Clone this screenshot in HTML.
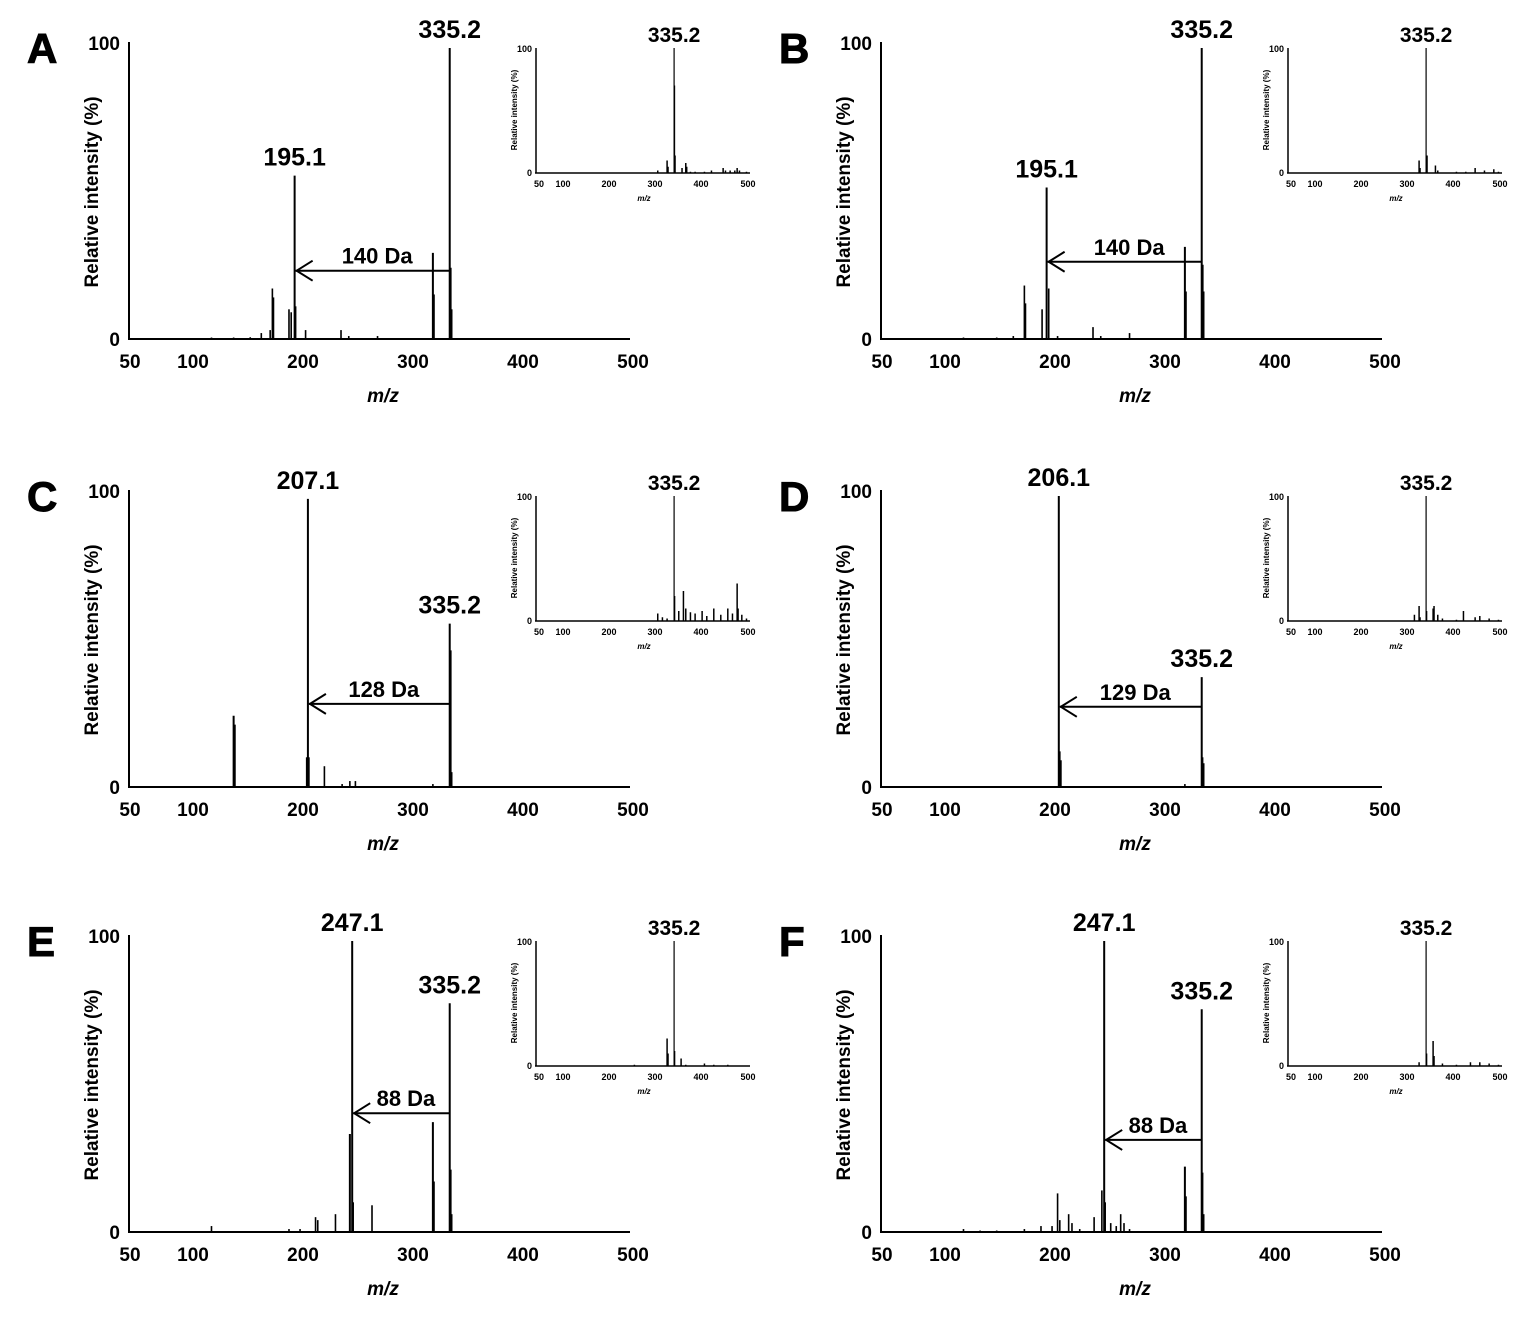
<!DOCTYPE html>
<html><head><meta charset="utf-8"><style>
html,body{margin:0;padding:0;background:#fff}
svg text{font-family:"Liberation Sans",Arial,sans-serif;font-weight:bold;fill:#000}
</style></head><body>
<svg id="s" width="1534" height="1316" xmlns="http://www.w3.org/2000/svg"></svg>
<script>
const s=document.getElementById('s');let h='';
const P=[
 {L:'A',dx:0,dy:0,peaks:[[165,2],[173,3],[175,17],[176,14],[190,10],[192,9],[195.1,55],[196,11],[205,3],[237,3],[244,1],[270,1],[320,29],[321,15],[335.2,98],[336,24],[337,10],[120,.5],[140,.5],[155,.6]],
  labs:[[195.1,55,'195.1'],[335.2,98,'335.2']],arrow:[335.2,195.1,23,'140 Da'],
  ins:[[300,2],[320,10],[322,5],[335,100],[336,70],[337,14],[352,4],[360,8],[362,5],[370,1],[380,1],[400,1],[415,2],[440,4],[445,2],[455,2],[465,2],[470,4],[475,2],[490,1]]},
 {L:'B',dx:752,dy:0,peaks:[[165,1],[175,18],[176,12],[191,10],[195.1,51],[197,17],[205,1],[237,4],[244,1],[270,2],[320,31],[321,16],[335.2,98],[336,25],[337,16],[120,.5],[150,.5]],
  labs:[[195.1,51,'195.1'],[335.2,98,'335.2']],arrow:[335.2,195.1,26,'140 Da'],
  ins:[[320,10],[322,4],[335,100],[337,14],[355,6],[360,2],[400,1],[420,1],[440,4],[460,2],[480,3],[490,1]]},
 {L:'C',dx:0,dy:448,peaks:[[140,24],[141,21],[206,10],[207.1,97],[208,10],[222,7],[238,1],[245,2],[250,2],[320,1],[335.2,55],[336,46],[337,5]],
  labs:[[207.1,97,'207.1'],[335.2,55,'335.2']],arrow:[335.2,207.1,28,'128 Da'],
  ins:[[300,6],[310,3],[320,2],[335,100],[336,20],[345,8],[355,24],[360,10],[370,7],[380,6],[395,8],[405,4],[420,10],[435,5],[450,10],[460,6],[470,30],[472,10],[480,5],[490,2]]},
 {L:'D',dx:752,dy:448,peaks:[[206.1,98],[207,12],[208,9],[320,1],[335.2,37],[336,10],[337,8]],
  labs:[[206.1,98,'206.1'],[335.2,37,'335.2']],arrow:[335.2,206.1,27,'129 Da'],
  ins:[[310,5],[320,12],[322,3],[335,100],[336,8],[350,10],[352,12],[360,5],[370,2],[400,1],[415,8],[440,3],[450,4],[470,2],[490,1]]},
 {L:'E',dx:0,dy:893,peaks:[[120,2],[190,1],[200,1],[214,5],[216,4],[232,6],[245,33],[247.1,98],[248,10],[265,9],[320,37],[321,17],[335.2,77],[336,21],[337,6]],
  labs:[[247.1,98,'247.1'],[335.2,77,'335.2']],arrow:[335.2,247.1,40,'88 Da'],
  ins:[[250,1],[320,22],[322,10],[335,100],[336,12],[350,6],[360,1],[400,2],[420,1],[450,1]]},
 {L:'F',dx:752,dy:893,peaks:[[120,1],[135,.5],[150,.5],[175,1],[190,2],[200,2],[205,13],[207,4],[215,6],[218,3],[225,1],[238,5],[245,14],[247.1,98],[248,10],[253,3],[258,2],[262,6],[265,3],[270,1],[320,22],[321,12],[335.2,75],[336,20],[337,6]],
  labs:[[247.1,98,'247.1'],[335.2,75,'335.2']],arrow:[335.2,247.1,31,'88 Da'],
  ins:[[320,3],[335,100],[336,10],[350,20],[352,8],[370,2],[400,1],[430,3],[450,3],[470,2],[490,1]]}
];
for(const p of P){
 const ox=p.dx,oy=p.dy;
 const X=m=>ox+134+(m-50)*1.107, y0=oy+339, Y=v=>y0-v*2.97;
 h+=`<text x="${ox+27}" y="${oy+63}" font-size="42" style="font-weight:900" stroke="#000" stroke-width="1">${p.L}</text>`;
 h+=`<line x1="${ox+129}" y1="${oy+42}" x2="${ox+129}" y2="${y0}" stroke="#000" stroke-width="2"/>`;
 h+=`<line x1="${ox+128}" y1="${y0}" x2="${ox+630}" y2="${y0}" stroke="#000" stroke-width="2"/>`;
 h+=`<text x="${ox+120}" y="${oy+50}" font-size="19" text-anchor="end">100</text>`;
 h+=`<text x="${ox+120}" y="${y0+7}" font-size="19" text-anchor="end">0</text>`;
 [[50,130],[100,193],[200,303],[300,413],[400,523],[500,633]].forEach(([t,x])=>h+=`<text x="${ox+x}" y="${oy+368}" font-size="19" text-anchor="middle">${t}</text>`);
 h+=`<text x="${ox+383}" y="${oy+402}" font-size="19" text-anchor="middle" font-style="italic">m/z</text>`;
 h+=`<text transform="translate(${ox+98},${oy+192}) rotate(-90)" font-size="19" text-anchor="middle">Relative intensity (%)</text>`;
 for(const [m,v] of p.peaks){const w=v>20?2:1.6;h+=`<line x1="${X(m)}" y1="${y0}" x2="${X(m)}" y2="${Y(v)}" stroke="#000" stroke-width="${w}"/>`;}
 for(const [m,v,t] of p.labs)h+=`<text x="${X(m)}" y="${Y(v)-10}" font-size="25" text-anchor="middle">${t}</text>`;
 const [a,b,v,t]=p.arrow, ay=Y(v), xa=X(a), xb=X(b);
 h+=`<line x1="${xa}" y1="${ay}" x2="${xb+1}" y2="${ay}" stroke="#000" stroke-width="2"/>`;
 h+=`<polyline points="${xb+18},${ay-10} ${xb+2},${ay} ${xb+18},${ay+10}" fill="none" stroke="#000" stroke-width="2"/>`;
 h+=`<text x="${(xa+xb)/2+5}" y="${ay-7}" font-size="22" text-anchor="middle">${t}</text>`;
 const IX=m=>ox+541+(m-50)*0.467, iy0=oy+173, IY=v=>iy0-v*1.25;
 h+=`<line x1="${ox+536}" y1="${oy+48}" x2="${ox+536}" y2="${iy0}" stroke="#000" stroke-width="1.5"/>`;
 h+=`<line x1="${ox+535}" y1="${iy0}" x2="${ox+750}" y2="${iy0}" stroke="#000" stroke-width="1.5"/>`;
 h+=`<text x="${ox+532}" y="${oy+52}" font-size="9" text-anchor="end">100</text>`;
 h+=`<text x="${ox+532}" y="${iy0+3}" font-size="9" text-anchor="end">0</text>`;
 [[50,539],[100,563],[200,609],[300,655],[400,701],[500,748]].forEach(([t,x])=>h+=`<text x="${ox+x}" y="${oy+187}" font-size="9" text-anchor="middle">${t}</text>`);
 h+=`<text x="${ox+644}" y="${oy+201}" font-size="8" text-anchor="middle" font-style="italic">m/z</text>`;
 h+=`<text transform="translate(${ox+517},${oy+110}) rotate(-90)" font-size="8" text-anchor="middle">Relative intensity (%)</text>`;
 for(const [m,v] of p.ins)h+=`<line x1="${IX(m)}" y1="${iy0}" x2="${IX(m)}" y2="${IY(v)}" stroke="#000" stroke-width="${v>50?1.2:1.5}"/>`;
 h+=`<text x="${IX(335)}" y="${oy+42}" font-size="21" text-anchor="middle">335.2</text>`;
}
s.innerHTML=h;
</script>
</body></html>
